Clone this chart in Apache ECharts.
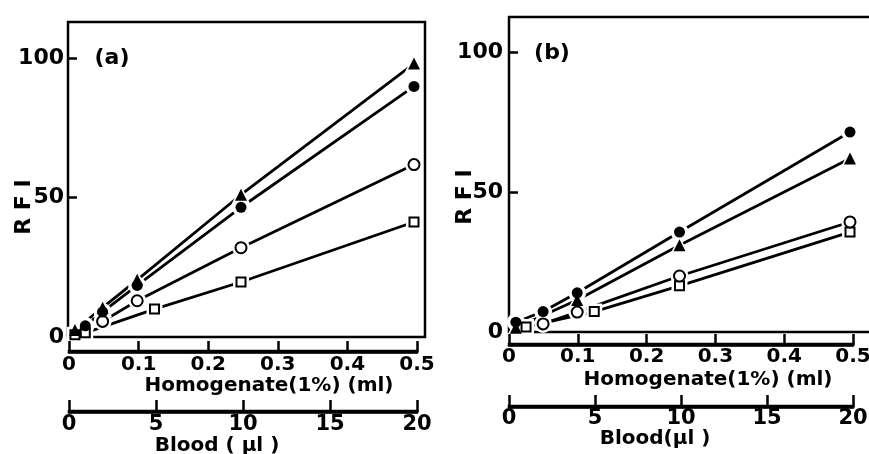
<!DOCTYPE html>
<html>
<head>
<meta charset="utf-8">
<script src="https://cdn.jsdelivr.net/npm/echarts@6/dist/echarts.min.js"></script>
<style>
  html, body { margin: 0; padding: 0; background: #fff; }
  #chart { width: 869px; height: 454px; }
</style>
</head>
<body>
<div id="chart"></div>
<script>
// ---------- Data ----------
// Panel (a)
const a_triX = [0.01, 0.05, 0.1, 0.25, 0.5];
const a_triY = [2.5, 10.5, 20.5, 51, 98];
const a_dotX = [0.025, 0.05, 0.1, 0.25, 0.5];
const a_dotY = [4, 9, 18.5, 46.5, 89.8];
const a_cirX = [0.05, 0.1, 0.25, 0.5];
const a_cirY = [5.6, 13, 32, 61.8];
const a_sqX = [0.01, 0.025, 0.125, 0.25, 0.5];
const a_sqY = [0.8, 1.5, 10, 19.7, 41.2];
// Panel (b)
const b_dotX = [0.01, 0.05, 0.1, 0.25, 0.5];
const b_dotY = [3.5, 7.3, 14, 35.7, 71.4];
const b_triX = [0.01, 0.1, 0.25, 0.5];
const b_triY = [1.5, 11.4, 31, 62];
const b_cirX = [0.05, 0.1, 0.25, 0.5];
const b_cirY = [2.9, 7.1, 20, 39.3];
const b_sqX = [0.025, 0.125, 0.25, 0.5];
const b_sqY = [1.8, 7.3, 16.5, 35.7];
// Tick labels
const yTicks = [0, 50, 100];
const homogTicks = [0, 0.1, 0.2, 0.3, 0.4, 0.5];   // ml
const bloodTicks = [0, 5, 10, 15, 20];             // µl
// Texts
const yName = 'R F I';
const homogNameA = 'Homogenate(1%) (ml)';
const homogNameB = 'Homogenate(1%) (ml)';
const bloodNameA = 'Blood ( μl )';
const bloodNameB = 'Blood(μl )';

// ---------- Build ----------
const FONT = 'DejaVu Sans';
const BLACK = '#000';
const zip = (xs, ys) => xs.map((x, i) => [x, ys[i]]);

const markerDefs = {
  tri: { symbol: 'triangle', size: 12, fill: BLACK, border: 0 },
  dot: { symbol: 'circle', size: 11, fill: BLACK, border: 0 },
  cir: { symbol: 'circle', size: 11, fill: '#fff', border: 2 },
  sq:  { symbol: 'rect', size: 9, fill: '#fff', border: 2 }
};

function panelSeries(axisIdx, sets) {
  const out = [];
  sets.forEach(([kind, xs, ys]) => {
    out.push({
      type: 'line', xAxisIndex: axisIdx, yAxisIndex: axisIdx,
      data: zip(xs, ys), showSymbol: false, symbol: 'none', z: 2,
      lineStyle: { color: BLACK, width: 2.8 }, silent: true, animation: false
    });
  });
  sets.forEach(([kind, xs, ys]) => {
    const m = markerDefs[kind];
    out.push({
      type: 'scatter', xAxisIndex: axisIdx, yAxisIndex: axisIdx,
      data: zip(xs, ys), symbol: m.symbol, symbolSize: m.size + 7, z: 3,
      itemStyle: { color: '#fff', opacity: 1 }, silent: true, animation: false
    });
  });
  sets.forEach(([kind, xs, ys]) => {
    const m = markerDefs[kind];
    out.push({
      type: 'scatter', xAxisIndex: axisIdx, yAxisIndex: axisIdx,
      data: zip(xs, ys), symbol: m.symbol, symbolSize: m.size, z: 4,
      itemStyle: { color: m.fill, borderColor: BLACK, borderWidth: m.border, opacity: 1 },
      silent: true, animation: false
    });
  });
  return out;
}

function plotYAxis(gridIndex, max, margin) {
  return {
    type: 'value', gridIndex, min: 0, max, interval: 50,
    axisLine: { show: false }, splitLine: { show: false },
    axisTick: { show: true, inside: true, length: 9, customValues: [50, 100],
      lineStyle: { color: BLACK, width: 2.5 } },
    axisLabel: { show: true, customValues: yTicks, margin, color: BLACK,
      fontFamily: FONT, fontSize: 22, fontWeight: 'bold' }
  };
}
function plotXAxis(gridIndex, max) {
  return {
    type: 'value', gridIndex, min: 0, max,
    axisLine: { show: false }, axisTick: { show: false },
    axisLabel: { show: false }, splitLine: { show: false }
  };
}
// scale-only axis in its own thin grid; values scaled to integers by factor
function scaleXAxis(gridIndex, ticks, factor, fontSize, margin, tickLen, digits) {
  const max = Math.round(ticks[ticks.length - 1] * factor);
  const interval = Math.round((ticks[1] - ticks[0]) * factor);
  return {
    type: 'value', gridIndex, min: 0, max, interval, position: 'bottom', z: 20,
    axisLine: { show: true, onZero: false, lineStyle: { color: BLACK, width: 2.5 } },
    axisTick: { show: true, inside: true, length: tickLen,
      lineStyle: { color: BLACK, width: 2.5 } },
    axisLabel: { show: true, margin, color: BLACK,
      fontFamily: FONT, fontSize, fontWeight: 'bold',
      formatter: v => (v === 0 ? '0' : (v / factor).toFixed(digits)) },
    splitLine: { show: false }
  };
}
function hiddenY(gridIndex) {
  return { type: 'value', gridIndex, show: false, min: 0, max: 1 };
}
// thin grid whose border doubles as the scale's base line
function lineGrid(left, lineY, width) {
  return { outerBoundsMode: 'none', containLabel: false, z: 20,
    left, top: lineY - 1, width, height: 1,
    show: true, borderColor: BLACK, borderWidth: 2.5, backgroundColor: 'transparent' };
}

const G = { outerBoundsMode: 'none', containLabel: false };
const option = {
  backgroundColor: '#fff',
  animation: false,
  grid: [
    { ...G, left: 68, top: 22, width: 357, height: 315, show: true, borderColor: BLACK, borderWidth: 2.5, backgroundColor: 'transparent' },
    lineGrid(69, 352, 348),
    lineGrid(69, 412, 348),
    { ...G, left: 509, top: 17, width: 372, height: 315, show: true, borderColor: BLACK, borderWidth: 2.5, backgroundColor: 'transparent' },
    lineGrid(509, 345, 344),
    lineGrid(509, 407, 344)
  ],
  xAxis: [
    plotXAxis(0, 357 / 692),
    scaleXAxis(1, homogTicks, 100, 20, 3, 11, 1),
    scaleXAxis(2, bloodTicks, 1, 21, 2, 12, 0),
    plotXAxis(3, 372 / 682),
    scaleXAxis(4, homogTicks, 100, 20, 2, 11, 1),
    scaleXAxis(5, bloodTicks, 1, 21, 1, 12, 0)
  ],
  yAxis: [
    plotYAxis(0, 315 / 2.79, 4),
    hiddenY(1), hiddenY(2),
    plotYAxis(3, 315 / 2.8, 6),
    hiddenY(4), hiddenY(5)
  ],
  series: [
    ...panelSeries(0, [
      ['sq', a_sqX, a_sqY], ['cir', a_cirX, a_cirY],
      ['dot', a_dotX, a_dotY], ['tri', a_triX, a_triY]
    ]),
    ...panelSeries(3, [
      ['sq', b_sqX, b_sqY], ['cir', b_cirX, b_cirY],
      ['tri', b_triX, b_triY], ['dot', b_dotX, b_dotY]
    ])
  ],
  graphic: [
    { type: 'text', x: 112, y: 58, style: { text: '(a)', font: 'bold 22px "DejaVu Sans"', fill: BLACK, textAlign: 'center', textVerticalAlign: 'middle' } },
    { type: 'text', x: 552, y: 53, style: { text: '(b)', font: 'bold 22px "DejaVu Sans"', fill: BLACK, textAlign: 'center', textVerticalAlign: 'middle' } },
    { type: 'text', x: 24, y: 207, rotation: Math.PI / 2, style: { text: yName, font: 'bold 22px "DejaVu Sans"', fill: BLACK, textAlign: 'center', textVerticalAlign: 'middle' } },
    { type: 'text', x: 465, y: 197, rotation: Math.PI / 2, style: { text: yName, font: 'bold 22px "DejaVu Sans"', fill: BLACK, textAlign: 'center', textVerticalAlign: 'middle' } },
    { type: 'text', x: 269, y: 386, style: { text: homogNameA, font: 'bold 20px "DejaVu Sans"', fill: BLACK, textAlign: 'center', textVerticalAlign: 'middle' } },
    { type: 'text', x: 708, y: 380, style: { text: homogNameB, font: 'bold 20px "DejaVu Sans"', fill: BLACK, textAlign: 'center', textVerticalAlign: 'middle' } },
    { type: 'text', x: 217, y: 446, style: { text: bloodNameA, font: 'bold 20px "DejaVu Sans"', fill: BLACK, textAlign: 'center', textVerticalAlign: 'middle' } },
    { type: 'text', x: 655, y: 439, style: { text: bloodNameB, font: 'bold 20px "DejaVu Sans"', fill: BLACK, textAlign: 'center', textVerticalAlign: 'middle' } }
  ]
};

const chart = echarts.init(document.getElementById('chart'), null, { renderer: 'canvas' });
chart.setOption(option);
</script>
</body>
</html>
